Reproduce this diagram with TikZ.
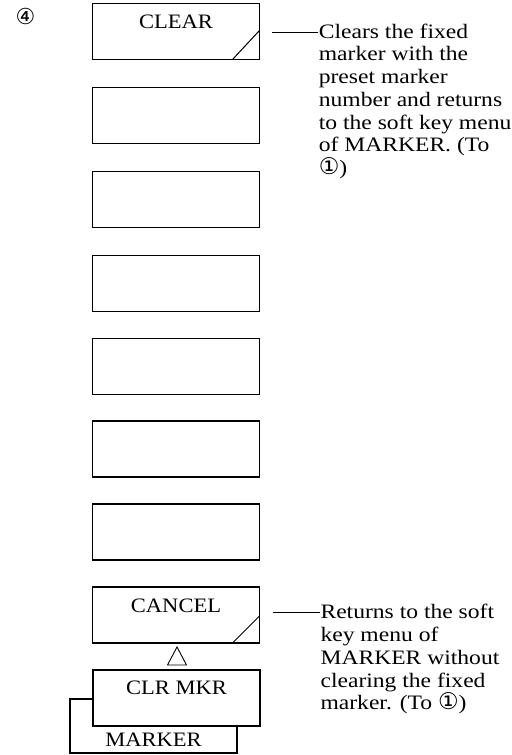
\documentclass[tikz,border=0pt]{standalone}
\usepackage{fontspec}
\setmainfont{Liberation Serif}
\newfontfamily\bodyfont[FakeStretch=1.15]{Liberation Serif}
\newfontfamily\keyfont[FakeStretch=1.1]{Liberation Serif}
\newfontfamily\symfont{DejaVu Sans}
\newcommand{\circone}{{\symfont\fontsize{23bp}{22.7bp}\selectfont ①}}
\begin{document}
\begin{tikzpicture}[x=1bp,y=1bp,line width=1.1bp,
  keybox/.style={draw,fill=white,minimum width=167bp,minimum height=56bp,inner sep=0pt,outer sep=0pt,anchor=north west},
  keylabel/.style={font=\keyfont\fontsize{20.5bp}{24bp}\selectfont,anchor=base,inner sep=0pt},
  note/.style={font=\bodyfont\fontsize{20.5bp}{22.7bp}\selectfont,align=left,anchor=base west,inner sep=0pt},
  leader/.style={line width=0.8bp},
  slash/.style={line width=1bp}]
\useasboundingbox (0,0) rectangle (512,-755);

\node[font=\symfont\fontsize{22bp}{24bp}\selectfont,inner sep=0pt] (num) at (25.5,-16) {④};

\node[keybox] (k1) at (92.5,-3.5) {};
\node[keybox] (k2) at (92.5,-87.5) {};
\node[keybox] (k3) at (92.5,-171.5) {};
\node[keybox] (k4) at (92.5,-255.5) {};
\node[keybox] (k5) at (92.5,-338.5) {};
\node[keybox] (k6) at (92.5,-421) {};
\node[keybox] (k7) at (92.5,-504) {};
\node[keybox] (k8) at (92.5,-587) {};

\node[keylabel] (t1) at ([yshift=-25bp]k1.north) {CLEAR};
\node[keylabel] (t8) at ([yshift=-25bp]k8.north) {CANCEL};
\draw[slash] ([xshift=-27bp]k1.south east) -- ([yshift=29bp]k1.south east);
\draw[slash] ([xshift=-27bp]k8.south east) -- ([yshift=27bp]k8.south east);

% triangle
\coordinate (tritop) at (177,-647);
\draw[line width=0.9bp] (tritop) -- ++(9.5,-18) -- ++(-19,0) -- cycle;

% MARKER box behind CLR MKR box
\node[keybox,minimum width=167bp,minimum height=54bp] (mk) at (70,-699) {};
\node[keybox] (k9) at (93,-670) {};
\node[keylabel] (t9) at ([yshift=-24bp]k9.north) {CLR MKR};
\node[keylabel] (tm) at (153.5,-746.7) {MARKER};

% notes (anchor = baseline of the last line)
\node[note] (n1) at (318.3,-174.5) {Clears the fixed\\marker with the\\preset marker\\number and returns\\to the soft key menu\\of MARKER. (To\\\circone)};
\coordinate (a1) at (271.5,-32.3);
\draw[leader] (a1) -- (a1 -| n1.west);

\node[note] (n2) at (320,-709.7) {Returns to the soft\\key menu of\\MARKER without\\clearing the fixed\\marker. (To~\circone)};
\coordinate (a2) at (273.3,-612.7);
\draw[leader] (a2) -- (a2 -| n2.west);
\end{tikzpicture}
\end{document}
